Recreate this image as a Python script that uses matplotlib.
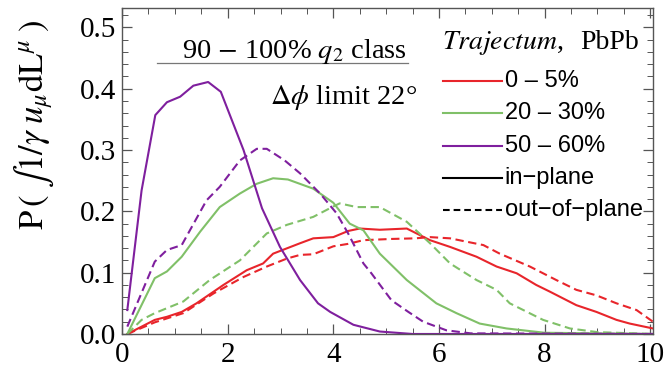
import numpy as np
import matplotlib.pyplot as plt

plt.rcParams['mathtext.fontset'] = 'stix'
plt.rcParams['font.family'] = 'Liberation Serif'

# path-length distributions, in-plane (solid) and out-of-plane (dashed)
red_in_x = [0.1, 0.62, 0.85, 1.13, 1.41, 1.92, 2.36, 2.67, 2.86, 3.37, 3.62, 4.0, 4.28, 4.5, 4.88, 5.39, 5.83, 6.21, 6.71, 7.09, 7.47, 7.84, 8.1, 8.6, 8.98, 9.36, 9.61, 10.05]
red_in_y = [0.0, 0.023, 0.028, 0.036, 0.05, 0.08, 0.104, 0.115, 0.131, 0.148, 0.156, 0.158, 0.168, 0.172, 0.170, 0.172, 0.153, 0.142, 0.126, 0.110, 0.099, 0.080, 0.069, 0.047, 0.036, 0.023, 0.017, 0.009]
red_out_x = [0.1, 0.62, 1.16, 1.73, 2.3, 2.74, 3.12, 3.37, 3.62, 4.0, 4.28, 4.57, 5.1, 5.55, 5.83, 6.21, 6.84, 7.15, 7.72, 8.22, 8.6, 8.98, 9.36, 9.74, 10.05]
red_out_y = [0.0, 0.019, 0.034, 0.066, 0.093, 0.110, 0.123, 0.129, 0.130, 0.143, 0.147, 0.153, 0.155, 0.156, 0.158, 0.156, 0.145, 0.131, 0.110, 0.088, 0.072, 0.063, 0.050, 0.039, 0.020]

green_in_x = [0.1, 0.62, 0.85, 1.13, 1.48, 1.85, 2.23, 2.55, 2.86, 3.14, 3.62, 4.0, 4.31, 4.57, 4.88, 5.39, 5.95, 6.33, 6.77, 7.28, 8.0, 10.05]
green_in_y = [0.0, 0.091, 0.102, 0.126, 0.167, 0.207, 0.229, 0.245, 0.254, 0.252, 0.237, 0.214, 0.180, 0.169, 0.131, 0.088, 0.050, 0.034, 0.017, 0.009, 0.002, 0.0]
green_out_x = [0.1, 0.37, 0.62, 1.16, 1.66, 2.23, 2.74, 3.12, 3.62, 4.0, 4.12, 4.44, 4.88, 5.39, 5.83, 6.21, 6.71, 7.09, 7.34, 7.97, 8.48, 9.0, 10.05]
green_out_y = [0.0, 0.023, 0.034, 0.053, 0.088, 0.120, 0.164, 0.178, 0.191, 0.208, 0.213, 0.207, 0.207, 0.183, 0.148, 0.115, 0.088, 0.072, 0.050, 0.023, 0.009, 0.003, 0.0]

purple_in_x = [0.1, 0.37, 0.63, 0.85, 1.1, 1.35, 1.63, 1.87, 2.3, 2.65, 2.99, 3.37, 3.71, 3.94, 4.38, 4.88, 5.5, 10.05]
purple_in_y = [0.039, 0.234, 0.357, 0.378, 0.387, 0.405, 0.411, 0.395, 0.300, 0.205, 0.142, 0.088, 0.050, 0.036, 0.015, 0.004, 0.0, 0.0]
purple_out_x = [0.1, 0.62, 0.85, 1.13, 1.6, 1.85, 2.23, 2.55, 2.74, 3.08, 3.37, 3.75, 4.06, 4.28, 4.57, 4.72, 5.1, 5.42, 5.7, 6.14, 6.6, 10.05]
purple_out_y = [0.012, 0.118, 0.137, 0.145, 0.218, 0.240, 0.283, 0.302, 0.302, 0.283, 0.262, 0.229, 0.197, 0.164, 0.115, 0.099, 0.055, 0.036, 0.020, 0.006, 0.001, 0.0]

labels = ['0 – 5%', '20 – 30%', '50 – 60%']
colors = ['#e8252b', '#80c068', '#7f1f9e']
dashed = (0, (4, 2.2))

fig = plt.figure(figsize=(6.69, 3.72), dpi=100)
ax = fig.add_axes([0.1824, 0.1022, 0.7936, 0.8768])

series = [(red_in_x, red_in_y, red_out_x, red_out_y),
          (green_in_x, green_in_y, green_out_x, green_out_y),
          (purple_in_x, purple_in_y, purple_out_x, purple_out_y)]
for (xi, yi, xo, yo), c in zip(series, colors):
    ax.plot(xi, yi, color=c, lw=1.5)
    ax.plot(xo, yo, color=c, lw=1.5, ls=dashed)

ax.set_xlim(0, 10.05)
ax.set_ylim(0, 0.532)
ax.set_xticks([0, 2, 4, 6, 8, 10])
ax.set_yticks([0.0, 0.1, 0.2, 0.3, 0.4, 0.5])
ax.set_yticklabels(['0.0', '0.1', '0.2', '0.3', '0.4', '0.5'])
ax.set_xticks(np.arange(0, 10.01, 0.5), minor=True)
ax.set_yticks(np.arange(0, 0.531, 0.02), minor=True)
ax.tick_params(which='both', direction='in', top=True, right=True,
               color='#555555', labelsize=21)
ax.tick_params(axis='y', pad=4)
ax.tick_params(axis='x', pad=6)
ax.tick_params(which='major', length=7, width=0.9)
ax.tick_params(which='minor', length=4, width=0.7)
for s in ax.spines.values():
    s.set_color('#555555')
    s.set_linewidth(1.0)

fig.text(0.052, 0.665, r'$\mathrm{P}\,(\;\int 1/\gamma\; u_\mu \mathrm{dL}^\mu\;)$',
         rotation=90, ha='center', va='center', fontsize=25)

ax.text(0.324, 0.847, r'90 $-$ 100% $q_2$ class', transform=ax.transAxes,
        ha='center', va='baseline', fontsize=20.5)
ax.plot([0.066, 0.539], [0.830, 0.830], transform=ax.transAxes,
        color='#777777', lw=0.9)
ax.text(0.417, 0.706, r'$\Delta\phi$ limit 22°', transform=ax.transAxes,
        ha='center', va='baseline', fontsize=20.5)

ax.text(0.603, 0.875, r'$\it{Trajectum}$,', transform=ax.transAxes,
        fontsize=20, va='baseline')
ax.text(0.974, 0.875, 'PbPb', transform=ax.transAxes, ha='right',
        fontsize=20, va='baseline')

# legend drawn by hand: colour rows, then line style rows
rows_y = [0.777, 0.676, 0.575, 0.477, 0.379]
row_colors = colors + ['black', 'black']
row_styles = ['-', '-', '-', '-', (0, (3.2, 1.9))]
row_labels = labels + ['in−plane', 'out−of−plane']
for y, c, ls, lab in zip(rows_y, row_colors, row_styles, row_labels):
    ax.plot([0.6045, 0.716], [y, y], transform=ax.transAxes, color=c,
            lw=1.5, ls=ls)
    ax.text(0.721, y, lab, transform=ax.transAxes, va='center', ha='left',
            family='Liberation Sans', fontsize=17)

fig.savefig('out.png', dpi=100)
